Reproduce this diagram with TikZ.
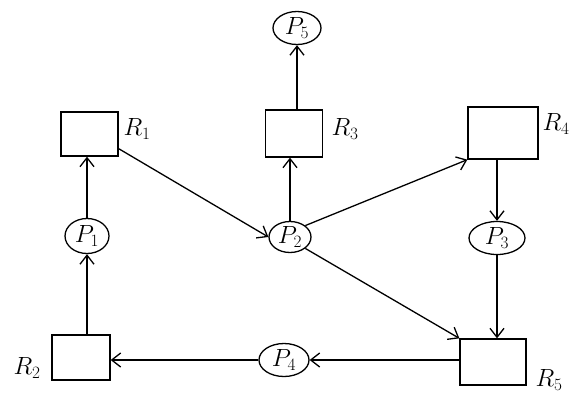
\documentclass[tikz,border=0pt]{standalone}
\usetikzlibrary{shapes.geometric,arrows.meta}
\begin{document}
\begin{tikzpicture}[x=1pt,y=-1pt,
  txt/.style={font=\fontsize{24}{28}\selectfont},
  res/.style={draw,line width=1.3pt,inner sep=0pt},
  proc/.style={txt,draw,ellipse,line width=1.3pt,inner sep=0pt},
  edge/.style={line width=1.3pt,-{Straight Barb[length=9pt,width=14pt,line width=1.3pt]}},
  lbl/.style={txt,inner sep=0pt}]
\useasboundingbox (0,0) rectangle (570,397);
% resources
\node[res,minimum width=57pt,minimum height=44pt] (R1) at (89.5,134) {};
\node[res,minimum width=57pt,minimum height=47pt] (R3) at (294,133.5) {};
\node[res,minimum width=70pt,minimum height=52pt] (R4) at (503,133) {};
\node[res,minimum width=58pt,minimum height=45pt] (R2) at (81,357.5) {};
\node[res,minimum width=66pt,minimum height=46pt] (R5) at (493,362) {};
% processes
\node[proc,minimum width=48pt,minimum height=33pt] (P5) at (297,28) {$P_5$};
\node[proc,minimum width=44pt,minimum height=35pt] (P1) at (87,236) {$P_1$};
\node[proc,minimum width=42pt,minimum height=31pt] (P2) at (290,237) {$P_2$};
\node[proc,minimum width=56pt,minimum height=33pt] (P3) at (497,238) {$P_3$};
\node[proc,minimum width=50pt,minimum height=33pt] (P4) at (284,360) {$P_4$};
% labels
\node[lbl] (L1) at (137,129) {$R_1$};
\node[lbl] (L3) at (345,129) {$R_3$};
\node[lbl] (L4) at (556,124) {$R_4$};
\node[lbl] (L2) at (27,368) {$R_2$};
\node[lbl] (L5) at (549,380) {$R_5$};
% edges
\draw[edge] (P1.south |- R2.north) -- (P1.south);
\draw[edge] (P1.north) -- (P1.north |- R1.south);
\draw[edge] (R1.south east) ++(0,8pt) coordinate (a2) -- (P2.west);
\draw[edge] (P2.north) -- (P2.north |- R3.south);
\draw[edge] (P5.south |- R3.north) -- (P5.south);
\draw[edge] (P2.north east) -- (R4.south west);
\draw[edge] (P3.north |- R4.south) -- (P3.north);
\draw[edge] (P3.south) -- (P3.south |- R5.north);
\draw[edge] (P2.south east) -- (R5.north west);
\draw[edge] (R5.west |- P4.east) -- (P4.east);
\draw[edge] (P4.west) -- (R2.east |- P4.west);
\end{tikzpicture}
\end{document}
